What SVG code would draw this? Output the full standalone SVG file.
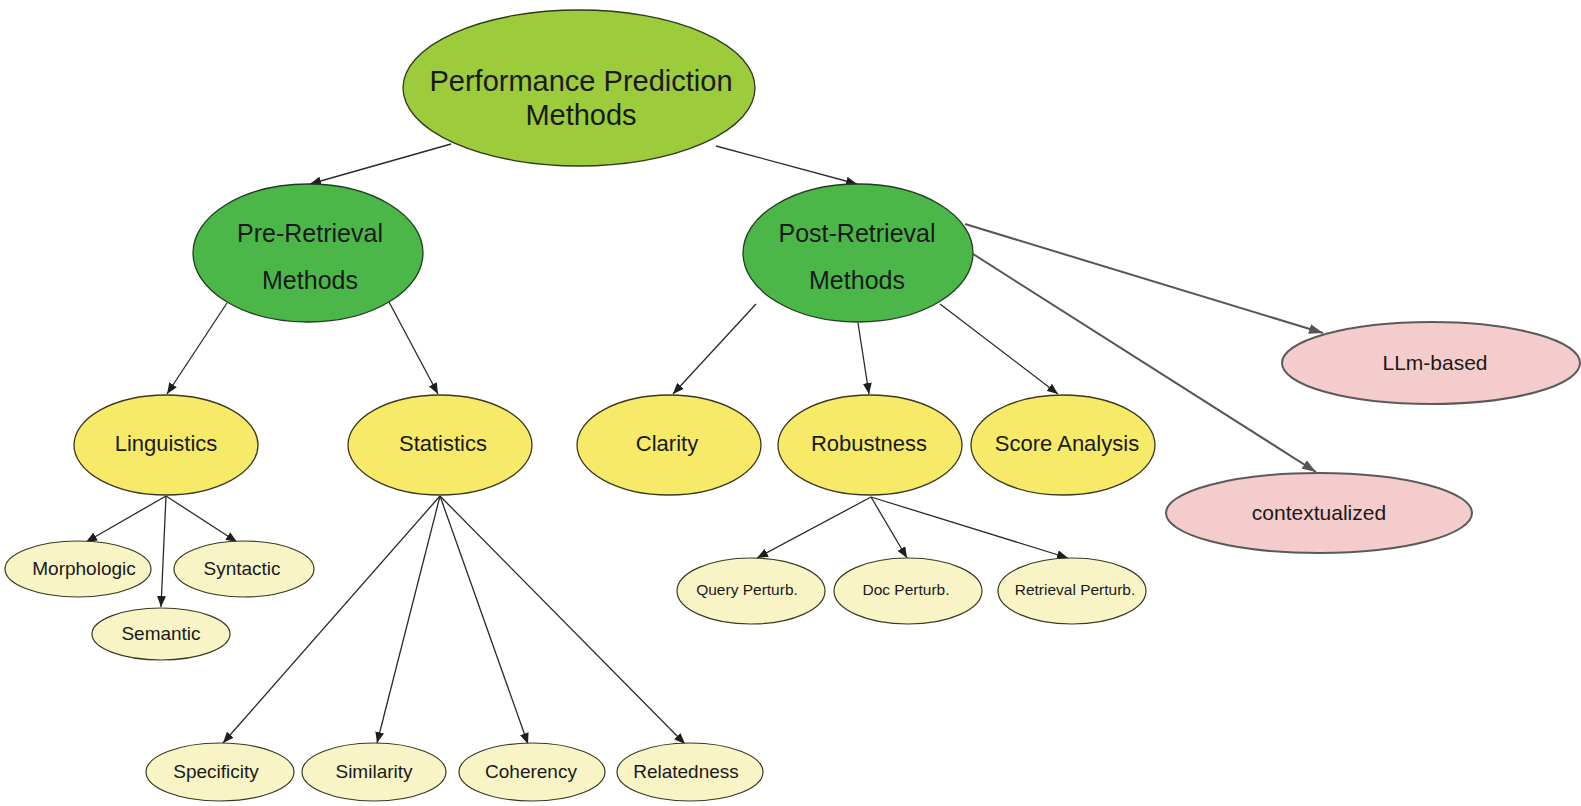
<svg xmlns="http://www.w3.org/2000/svg" width="1581" height="806" viewBox="0 0 1581 806">
<defs>
<style>
text{font-family:"Liberation Sans",Arial,sans-serif;fill:#1a1a1a;text-anchor:middle}
.root{fill:#9ccb3b;stroke:#2a3a1a;stroke-width:1.3}
.green{fill:#4cb749;stroke:#233a22;stroke-width:1.3}
.yel{fill:#f6ea68;stroke:#3a3820;stroke-width:1.3}
.lyel{fill:#f9f4c6;stroke:#3a3820;stroke-width:1.2}
.pink{fill:#f4cccc;stroke:#5a5a5a;stroke-width:2}
.c{stroke:#2a2a2a;stroke-width:1.3;fill:none;marker-end:url(#ah)}
.cp{stroke:#555;stroke-width:2;fill:none;marker-end:url(#ahp)}
</style>
<marker id="ah" markerUnits="userSpaceOnUse" markerWidth="11" markerHeight="9" refX="11" refY="4.5" orient="auto"><path d="M0,0 L11,4.5 L0,9 z" fill="#1e1e1e"/></marker>
<marker id="ahp" markerUnits="userSpaceOnUse" markerWidth="14" markerHeight="10" refX="14" refY="5" orient="auto"><path d="M0,0 L14,5 L0,10 z" fill="#555"/></marker>
</defs>
<rect width="1581" height="806" fill="#fff"/>
<g id="connectors">
<line class="c" x1="451" y1="144" x2="310" y2="184"/>
<line class="c" x1="716" y1="146" x2="857" y2="184"/>
<line class="c" x1="227" y1="303" x2="167" y2="394"/>
<line class="c" x1="389" y1="302" x2="438" y2="394"/>
<line class="c" x1="756" y1="304" x2="673" y2="394"/>
<line class="c" x1="858" y1="323" x2="869" y2="394"/>
<line class="c" x1="940" y1="304" x2="1058" y2="394"/>
<line class="cp" x1="965" y1="224" x2="1323" y2="333"/>
<line class="cp" x1="973" y1="254" x2="1316" y2="472"/>
<line class="c" x1="166" y1="496" x2="86" y2="542"/>
<line class="c" x1="166" y1="496" x2="161" y2="607"/>
<line class="c" x1="166" y1="496" x2="237" y2="542"/>
<line class="c" x1="440" y1="496" x2="223" y2="743"/>
<line class="c" x1="440" y1="496" x2="377" y2="743"/>
<line class="c" x1="440" y1="496" x2="528" y2="744"/>
<line class="c" x1="440" y1="496" x2="685" y2="744"/>
<line class="c" x1="871" y1="497" x2="757" y2="558"/>
<line class="c" x1="871" y1="497" x2="907" y2="558"/>
<line class="c" x1="871" y1="497" x2="1068" y2="558"/>
</g>
<g id="root"><ellipse class="root" cx="579" cy="88" rx="176" ry="78"/><text x="581" y="91" font-size="29">Performance Prediction</text><text x="581" y="125" font-size="29">Methods</text></g>
<g id="pre"><ellipse class="green" cx="308" cy="253" rx="115" ry="69"/><text x="310" y="242" font-size="25">Pre-Retrieval</text><text x="310" y="289" font-size="25">Methods</text></g>
<g id="post"><ellipse class="green" cx="858" cy="253" rx="115" ry="69"/><text x="857" y="242" font-size="25">Post-Retrieval</text><text x="857" y="289" font-size="25">Methods</text></g>
<g id="linguistics"><ellipse class="yel" cx="166" cy="445" rx="92" ry="50"/><text x="166" y="451" font-size="22">Linguistics</text></g>
<g id="statistics"><ellipse class="yel" cx="440" cy="445" rx="92" ry="50"/><text x="443" y="451" font-size="22">Statistics</text></g>
<g id="clarity"><ellipse class="yel" cx="669" cy="445" rx="92" ry="50"/><text x="667" y="451" font-size="22">Clarity</text></g>
<g id="robustness"><ellipse class="yel" cx="870" cy="445" rx="92" ry="50"/><text x="869" y="451" font-size="22">Robustness</text></g>
<g id="score"><ellipse class="yel" cx="1063" cy="445" rx="92" ry="50"/><text x="1067" y="451" font-size="22">Score Analysis</text></g>
<g id="llm"><ellipse class="pink" cx="1431" cy="363" rx="149" ry="41"/><text x="1435" y="370" font-size="21">LLm-based</text></g>
<g id="contextualized"><ellipse class="pink" cx="1319" cy="513" rx="153" ry="40"/><text x="1319" y="520" font-size="21">contextualized</text></g>
<g id="morphologic"><ellipse class="lyel" cx="78" cy="569" rx="73" ry="28"/><text x="84" y="575" font-size="19">Morphologic</text></g>
<g id="syntactic"><ellipse class="lyel" cx="244" cy="569" rx="70" ry="28"/><text x="242" y="575" font-size="19">Syntactic</text></g>
<g id="semantic"><ellipse class="lyel" cx="161" cy="634" rx="69" ry="26"/><text x="161" y="640" font-size="19">Semantic</text></g>
<g id="specificity"><ellipse class="lyel" cx="220" cy="772" rx="74" ry="29"/><text x="216" y="778" font-size="19">Specificity</text></g>
<g id="similarity"><ellipse class="lyel" cx="374" cy="772" rx="72" ry="29"/><text x="374" y="778" font-size="19">Similarity</text></g>
<g id="coherency"><ellipse class="lyel" cx="532" cy="772" rx="73" ry="29"/><text x="531" y="778" font-size="19">Coherency</text></g>
<g id="relatedness"><ellipse class="lyel" cx="690" cy="772" rx="73" ry="29"/><text x="686" y="778" font-size="19">Relatedness</text></g>
<g id="query"><ellipse class="lyel" cx="751" cy="591" rx="74" ry="33"/><text x="747" y="595" font-size="15.5">Query Perturb.</text></g>
<g id="doc"><ellipse class="lyel" cx="908" cy="591" rx="74" ry="33"/><text x="906" y="595" font-size="15.5">Doc Perturb.</text></g>
<g id="retrieval"><ellipse class="lyel" cx="1072" cy="591" rx="74" ry="33"/><text x="1075" y="595" font-size="15.5">Retrieval Perturb.</text></g>
</svg>
